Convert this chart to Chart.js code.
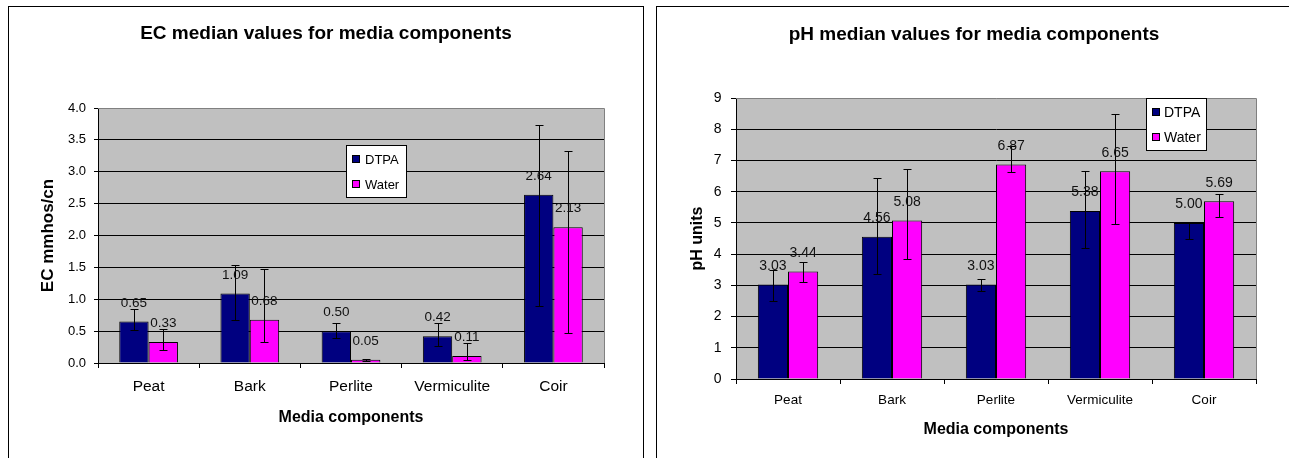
<!DOCTYPE html>
<html>
<head>
  <meta charset="utf-8" />
  <title>EC and pH median values</title>
  <script src="https://cdn.jsdelivr.net/npm/chart.js"></script>
  <style>
    html, body { margin: 0; padding: 0; background: #fff; overflow: hidden; }
    .frame { position: absolute; top: 6px; height: 470px; border: 1px solid #000; box-sizing: border-box; }
    canvas { position: absolute; top: 6px; }
  </style>
</head>
<body>
  <div class="frame" style="left:8px; width:636px;"></div>
  <div class="frame" style="left:656px; width:650px;"></div>
  <canvas id="ecChart" width="635" height="452" style="left:8px"></canvas>
  <canvas id="phChart" width="633" height="452" style="left:656px"></canvas>

  <script>
    const categories = ['Peat', 'Bark', 'Perlite', 'Vermiculite', 'Coir'];
    const seriesNames = ['DTPA', 'Water'];

    // EC (mmhos/cm) medians with error bar ends
    const ecDtpa = [0.65, 1.09, 0.50, 0.42, 2.64];
    const ecWater = [0.33, 0.68, 0.05, 0.11, 2.13];
    const ecDtpaLow = [0.51, 0.68, 0.40, 0.26, 0.90];
    const ecDtpaHigh = [0.85, 1.53, 0.62, 0.63, 3.74];
    const ecWaterLow = [0.21, 0.33, 0.03, 0.05, 0.47];
    const ecWaterHigh = [0.54, 1.48, 0.07, 0.32, 3.33];

    // pH medians with error bar ends
    const phDtpa = [3.03, 4.56, 3.03, 5.38, 5.00];
    const phWater = [3.44, 5.08, 6.87, 6.65, 5.69];
    const phDtpaLow = [2.50, 3.37, 2.82, 4.20, 4.49];
    const phDtpaHigh = [3.49, 6.44, 3.20, 6.66, 5.01];
    const phWaterLow = [3.11, 3.85, 6.62, 4.97, 5.19];
    const phWaterHigh = [3.76, 6.74, 7.45, 8.48, 5.93];

    const FONT = '"Liberation Sans", Arial, sans-serif';
    const colors = ['#000080', '#ff00ff'];

    const plotBg = {
      id: 'plotBg',
      beforeDraw(chart) {
        const a = chart.chartArea, ctx = chart.ctx;
        ctx.save();
        ctx.fillStyle = '#c0c0c0';
        ctx.fillRect(a.left, a.top, a.right - a.left, a.bottom - a.top);
        ctx.restore();
      },
      beforeDatasetsDraw(chart) {
        const a = chart.chartArea, ctx = chart.ctx;
        ctx.save();
        ctx.strokeStyle = '#808080';
        ctx.lineWidth = 1;
        ctx.beginPath();
        ctx.moveTo(Math.round(a.left), Math.round(a.top) + 0.5);
        ctx.lineTo(Math.round(a.right) + 0.5, Math.round(a.top) + 0.5);
        ctx.lineTo(Math.round(a.right) + 0.5, Math.round(a.bottom));
        ctx.stroke();
        ctx.restore();
      }
    };

    const errorBars = {
      id: 'errorBars',
      afterDatasetsDraw(chart) {
        const ctx = chart.ctx, y = chart.scales.y;
        ctx.save();
        ctx.strokeStyle = '#000';
        ctx.lineWidth = 1;
        chart.data.datasets.forEach((ds, i) => {
          chart.getDatasetMeta(i).data.forEach((bar, j) => {
            const x = Math.round(bar.x) + 0.5;
            const hi = Math.round(y.getPixelForValue(ds.errHigh[j])) + 0.5;
            const lo = Math.round(y.getPixelForValue(ds.errLow[j])) + 0.5;
            ctx.beginPath();
            ctx.moveTo(x, hi); ctx.lineTo(x, lo);
            ctx.moveTo(x - 4, hi); ctx.lineTo(x + 4, hi);
            ctx.moveTo(x - 4, lo); ctx.lineTo(x + 4, lo);
            ctx.stroke();
          });
        });
        ctx.restore();
      }
    };

    const valueLabels = {
      id: 'valueLabels',
      afterDatasetsDraw(chart, args, opts) {
        const ctx = chart.ctx;
        ctx.save();
        ctx.font = opts.size + 'px ' + FONT;
        ctx.fillStyle = '#111';
        ctx.textAlign = 'center';
        ctx.textBaseline = 'middle';
        chart.data.datasets.forEach((ds, i) => {
          chart.getDatasetMeta(i).data.forEach((bar, j) => {
            ctx.fillText(ds.data[j].toFixed(2), bar.x, bar.y - 18.5);
          });
        });
        ctx.restore();
      }
    };

    const boxLegend = {
      id: 'boxLegend',
      afterDraw(chart, args, opts) {
        const ctx = chart.ctx;
        ctx.save();
        ctx.fillStyle = '#fff';
        ctx.strokeStyle = '#000';
        ctx.lineWidth = 1;
        ctx.fillRect(opts.x, opts.y, opts.w, opts.h);
        ctx.strokeRect(opts.x + 0.5, opts.y + 0.5, opts.w, opts.h);
        ctx.font = opts.size + 'px ' + FONT;
        ctx.textBaseline = 'middle';
        chart.data.datasets.forEach((ds, i) => {
          const cy = opts.y + opts.firstRow + i * opts.rowGap;
          ctx.fillStyle = ds.backgroundColor;
          ctx.fillRect(opts.x + 6, cy - 4, 7, 7);
          ctx.strokeRect(opts.x + 6.5, cy - 3.5, 7, 7);
          ctx.fillStyle = '#000';
          ctx.fillText(ds.label, opts.x + opts.textX, cy + 1);
        });
        ctx.restore();
      }
    };

    function makeChart(id, s) {
      return new Chart(document.getElementById(id), {
        type: 'bar',
        data: {
          labels: categories,
          datasets: [
            { label: seriesNames[0], data: s.dtpa, errLow: s.dtpaLow, errHigh: s.dtpaHigh,
              backgroundColor: colors[0], borderColor: '#000', borderWidth: 1,
              categoryPercentage: 0.58, barPercentage: 1.0 },
            { label: seriesNames[1], data: s.water, errLow: s.waterLow, errHigh: s.waterHigh,
              backgroundColor: colors[1], borderColor: '#000', borderWidth: 1,
              categoryPercentage: 0.58, barPercentage: 1.0 }
          ]
        },
        options: {
          responsive: false,
          animation: false,
          // left padding keeps the chart title centred on the frame
          layout: { padding: { left: s.padLeft, top: 0, right: s.padRight, bottom: s.padBottom } },
          plugins: {
            legend: { display: false },
            tooltip: { enabled: false },
            title: {
              display: true, text: s.title, color: '#000',
              font: { family: FONT, size: 19, weight: 'bold' },
              padding: { top: s.titleTop, bottom: s.titleBottom }
            },
            valueLabels: { size: s.labelSize },
            boxLegend: s.legend
          },
          scales: {
            x: {
              afterFit(scale) { scale.height = 70; },
              grid: { display: true, drawOnChartArea: false, offset: true, tickLength: 5, color: '#000' },
              border: { color: '#000', width: 1 },
              ticks: { color: '#000', padding: s.xTickPad, font: { family: FONT, size: s.xTickSize } },
              title: {
                display: true, text: 'Media components', color: '#000',
                font: { family: FONT, size: 16, weight: 'bold' },
                padding: { top: 0, bottom: s.xTitlePad }
              }
            },
            y: {
              min: 0, max: s.max,
              afterFit(scale) { scale.width = s.yWidth; },
              grid: {
                color: (c) => c.tick && c.tick.value === s.max ? 'rgba(0,0,0,0)' : '#000',
                tickColor: '#000', tickLength: s.yTickLen, lineWidth: 1
              },
              border: { color: '#000', width: 1 },
              ticks: {
                stepSize: s.step, color: '#000', padding: s.yTickPad,
                font: { family: FONT, size: s.yTickSize },
                callback: s.fmt
              },
              title: {
                display: true, text: s.yTitle, color: '#000',
                font: { family: FONT, size: s.yTitleSize, weight: 'bold' },
                padding: { top: s.yTitlePad, bottom: 0 }
              }
            }
          }
        },
        plugins: [plotBg, errorBars, valueLabels, boxLegend]
      });
    }

    makeChart('ecChart', {
      title: 'EC median values for media components',
      yTitle: 'EC mmhos/cn', yTitleSize: 17, yTitlePad: -10.2,
      dtpa: ecDtpa, water: ecWater,
      dtpaLow: ecDtpaLow, dtpaHigh: ecDtpaHigh, waterLow: ecWaterLow, waterHigh: ecWaterHigh,
      max: 4, step: 0.5, fmt: (v) => Number(v).toFixed(1),
      padLeft: 40, padRight: 39, padBottom: 25, yWidth: 50,
      titleTop: 16.6, titleBottom: 62.6,
      xTickPad: 9.4, xTickSize: 15.5, xTitlePad: 5.4,
      yTickLen: 4, yTickPad: 8, yTickSize: 13,
      labelSize: 13.5,
      legend: { x: 338, y: 139, w: 60, h: 52, firstRow: 14, rowGap: 25, textX: 19, size: 13 }
    });

    makeChart('phChart', {
      title: 'pH median values for media components',
      yTitle: 'pH units', yTitleSize: 16, yTitlePad: -3.6,
      dtpa: phDtpa, water: phWater,
      dtpaLow: phDtpaLow, dtpaHigh: phDtpaHigh, waterLow: phWaterLow, waterHigh: phWaterHigh,
      max: 9, step: 1, fmt: (v) => v,
      padLeft: 36, padRight: 33, padBottom: 9, yWidth: 44,
      titleTop: 17.6, titleBottom: 51.6,
      xTickPad: 7.9, xTickSize: 13.5, xTitlePad: 9.4,
      yTickLen: 5, yTickPad: 9.5, yTickSize: 14,
      labelSize: 14,
      legend: { x: 490, y: 92, w: 60, h: 52, firstRow: 14, rowGap: 25, textX: 18, size: 14 }
    });
  </script>
</body>
</html>
